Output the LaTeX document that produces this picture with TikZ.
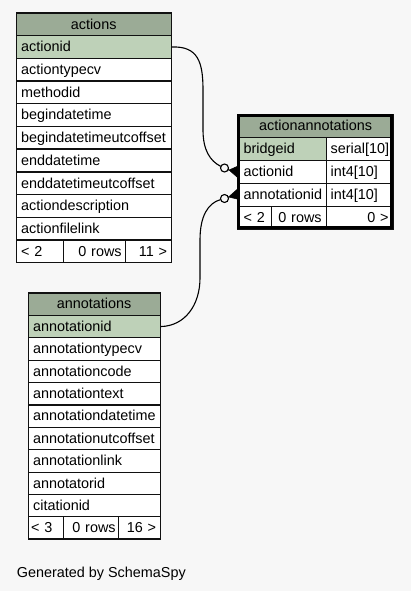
\documentclass[tikz,border=0pt]{standalone}
\usepackage{fontspec}
\setmainfont{Liberation Sans}
\definecolor{bgcol}{HTML}{F7F7F7}
\definecolor{hdrcol}{HTML}{9BAB96}
\definecolor{pkcol}{HTML}{BED1B8}
\definecolor{bordercol}{HTML}{111111}
\begin{document}
\begin{tikzpicture}[x=1bp,y=-1bp,
  cell/.style={draw=bordercol, line width=1.3bp, fill=white, anchor=north west,
    inner xsep=5bp, inner ysep=0pt, text height=10.4bp, text depth=0.8bp,
    font=\fontsize{14.4bp}{17bp}\selectfont},
  lcell/.style={cell, align=left},
  rcell/.style={cell, align=right},
  hcell/.style={cell, align=center, fill=hdrcol},
  pcell/.style={cell, align=left, fill=pkcol},
  link/.style={line width=1.1bp, black},
  odot/.style={draw=black, line width=1.1bp, fill=bgcol},
  crow/.style={fill=black, draw=black, line width=0.5bp, line join=miter}
]
\useasboundingbox (0,0) rectangle (411,591);
\fill[bgcol] (0,0) rectangle (411,591);

% ---------------- actions ----------------
\node[hcell, text width=145bp, minimum height=22.7bp] (act-h) at (15.5,12.3) {actions};
\node[pcell, text width=145bp, minimum height=22.7bp] (act-actionid) at (15.5,35.0) {actionid};
\foreach \n [count=\i] in {actiontypecv,methodid,begindatetime,begindatetimeutcoffset,enddatetime,enddatetimeutcoffset,actiondescription,actionfilelink}{
  \node[lcell, text width=145bp, minimum height=22.7bp] (act-\n) at (15.5,{12.3+22.7*(\i+1)}) {\n};
}
\node[lcell, text width=37.5bp, minimum height=22.7bp] (act-f1) at (15.5,239.3) {< 2};
\node[rcell, inner xsep=4bp, text width=54bp, minimum height=22.7bp] (act-f2) at (63,239.3) {0 rows};
\node[rcell, inner xsep=4bp, text width=37.5bp, minimum height=22.7bp] (act-f3) at (125,239.3) {11 >};

% ---------------- annotations ----------------
\node[hcell, text width=122bp, minimum height=22.4bp] (ann-h) at (27.5,292.3) {annotations};
\node[pcell, text width=122bp, minimum height=22.4bp] (ann-annotationid) at (27.5,314.7) {annotationid};
\foreach \n [count=\i] in {annotationtypecv,annotationcode,annotationtext,annotationdatetime,annotationutcoffset,annotationlink,annotatorid,citationid}{
  \node[lcell, text width=122bp, minimum height=22.4bp] (ann-\n) at (27.5,{292.3+22.4*(\i+1)}) {\n};
}
\node[lcell, inner xsep=3bp, text width=29.5bp, minimum height=22.4bp] (ann-f1) at (27.5,515.9) {< 3};
\node[rcell, inner xsep=3bp, text width=49bp, minimum height=22.4bp] (ann-f2) at (63,515.9) {0 rows};
\node[rcell, inner xsep=4bp, text width=33.5bp, minimum height=22.4bp] (ann-f3) at (118,515.9) {16 >};

% ---------------- actionannotations ----------------
\node[hcell, text width=146bp, minimum height=23bp] (aa-h) at (237,114) {actionannotations};
\node[pcell, inner xsep=6bp, text width=77bp, minimum height=23bp] (aa-bridgeid) at (237,137) {bridgeid};
\node[lcell, inner xsep=4bp, text width=59bp, minimum height=23bp] (aa-bridgeid-t) at (326,137) {serial[10]};
\node[lcell, inner xsep=6bp, text width=77bp, minimum height=23bp] (aa-actionid) at (237,160) {actionid};
\node[lcell, inner xsep=4bp, text width=59bp, minimum height=23bp] (aa-actionid-t) at (326,160) {int4[10]};
\node[lcell, inner xsep=6bp, text width=77bp, minimum height=23bp] (aa-annotationid) at (237,183) {annotationid};
\node[lcell, inner xsep=4bp, text width=59bp, minimum height=23bp] (aa-annotationid-t) at (326,183) {int4[10]};
\node[lcell, inner xsep=6bp, text width=22bp, minimum height=23bp] (aa-f1) at (237,206) {< 2};
\node[rcell, inner xsep=5bp, text width=45bp, minimum height=23bp] (aa-f2) at (271,206) {0 rows};
\node[rcell, inner xsep=5bp, text width=57bp, minimum height=23bp] (aa-f3) at (326,206) {0 >};
\draw[black, line width=3bp] (238.5,115.5) rectangle (391.5,227.5);

% ---------------- connectors ----------------
\coordinate (o1) at (224.5,168);
\coordinate (o2) at (224.5,198.5);
\draw[link] (act-actionid.east) .. controls (198,46) and (203,62) .. (203,90)
  -- (203,130) .. controls (203,150) and (210,161) .. (220.8,166.4);
\draw[crow] (229,170) -- (aa-actionid.west |- 0,166.5) -- (aa-actionid.west |- 0,177) -- cycle;
\draw[link] (o1) -- (229,170);
\draw[odot] (o1) circle (4bp);

\draw[link] (ann-annotationid.east) .. controls (185,326) and (200,305) .. (200,278)
  -- (200,240) .. controls (200,216) and (208,203) .. (220.6,199.6);
\draw[crow] (228.5,197) -- (aa-annotationid.west |- 0,189.5) -- (aa-annotationid.west |- 0,199) -- cycle;
\draw[link] (o2) -- (228.5,197);
\draw[odot] (o2) circle (4bp);

% ---------------- footer text ----------------
\node[anchor=base west, inner sep=0pt, font=\fontsize{14.4bp}{17bp}\selectfont] (gen) at (16.7,577) {Generated by SchemaSpy};
\end{tikzpicture}
\end{document}
